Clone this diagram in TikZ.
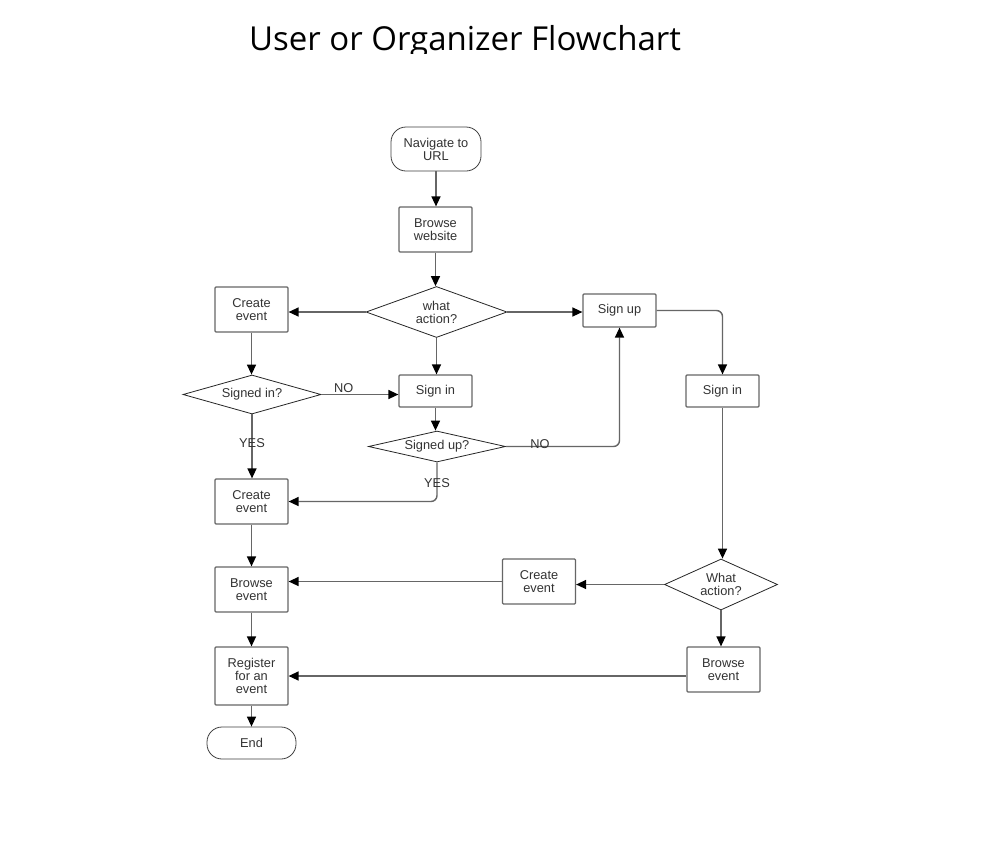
\documentclass[tikz,border=0pt]{standalone}
\usepackage{fontspec}
\setmainfont{Liberation Sans}
\newfontfamily\titlefont{Open Sans}
\usetikzlibrary{shapes.geometric, arrows.meta}
\definecolor{linegray}{RGB}{102,102,102}
\definecolor{textgray}{RGB}{51,51,51}
\tikzset{
  procbox/.style={
    draw=linegray, line width=1.2pt, rounded corners=1pt,
    minimum width=73pt, minimum height=45pt, inner sep=0pt,
    align=center, font=\fontsize{12.8}{13}\selectfont, text=textgray
  },
  termbox/.style={
    draw=black!75, line width=0.8pt, rounded corners=15pt,
    minimum width=90pt, minimum height=44pt, inner sep=0pt,
    align=center, font=\fontsize{12.8}{13}\selectfont, text=textgray
  },
  decbox/.style={
    diamond, draw=black!85, line width=0.8pt, inner sep=0pt,
    align=center, font=\fontsize{12.8}{13}\selectfont, text=textgray
  },
  flowline/.style={
    draw=linegray, line width=1.4pt, rounded corners=6pt,
    -{Triangle[length=10pt,width=9pt,color=black]}
  },
  flowlabel/.style={
    font=\fontsize{12.8}{13}\selectfont, text=textgray, inner sep=0pt
  },
  titletext/.style={
    font=\titlefont\fontsize{33}{38}\selectfont, text=black, inner sep=0pt
  },
}
\begin{document}
\begin{tikzpicture}[x=1pt, y=-1pt]

  \fill[white] (0,0) rectangle (985,849);
  \useasboundingbox (0,0) rectangle (985,849);

  %% Title (cut off at the bottom, as in the page)
  \begin{scope}
    \clip (0,0) rectangle (985,53);
    \node[titletext, anchor=base] (title) at (465,50) {User or Organizer Flowchart};
  \end{scope}

  %% Nodes
  \node[termbox] (navurl) at (436,149) {Navigate to\\URL};
  \node[procbox] (browseweb) at (435.5,229.5) {Browse\\website};
  \node[decbox, aspect=2.76, minimum width=141pt, minimum height=51pt] (whatact) at (436.5,312) {what\\action?};
  \node[procbox] (createtop) at (251.5,309.5) {Create\\event};
  \node[procbox, minimum height=33pt] (signup) at (619.5,310.5) {Sign up};
  \node[decbox, aspect=3.54, minimum width=138pt, minimum height=39pt] (signedin) at (252,394.5) {Signed in?};
  \node[procbox, minimum height=32pt] (signinmid) at (435.5,391) {Sign in};
  \node[procbox, minimum height=32pt] (signinright) at (722.5,391) {Sign in};
  \node[decbox, aspect=4.4, minimum width=137pt, minimum height=31pt] (signedup) at (437,446.5) {Signed up?};
  \node[procbox] (createmid) at (251.5,501.5) {Create\\event};
  \node[procbox] (browseleft) at (251.5,589.5) {Browse\\event};
  \node[procbox] (createright) at (539,581.5) {Create\\event};
  \node[decbox, aspect=2.2, minimum width=113pt, minimum height=51pt] (whatactright) at (721,584.5) {What\\action?};
  \node[procbox] (browseright) at (723.5,669.5) {Browse\\event};
  \node[procbox, minimum height=58pt] (register) at (251.5,676) {Register\\for an\\event};
  \node[termbox, minimum width=89pt, minimum height=32pt] (finish) at (251.5,743) {End};

  %% Main column
  \draw[flowline] (navurl.south) -- (navurl.south |- browseweb.north);
  \draw[flowline] (browseweb.south) -- (browseweb.south |- whatact.north);
  \draw[flowline] (whatact.west) -- (whatact.west -| createtop.east);
  \draw[flowline] (whatact.east) -- (whatact.east -| signup.west);
  \draw[flowline] (whatact.south) -- (whatact.south |- signinmid.north);

  %% Organizer side
  \draw[flowline] (createtop.south) -- (createtop.south |- signedin.north);
  \draw[flowline] (signedin.east) -- (signedin.east -| signinmid.west)
    node[flowlabel, pos=0.29, above=1pt] {NO};
  \draw[flowline] (signedin.south) -- (signedin.south |- createmid.north)
    node[flowlabel, pos=0.45] {YES};
  \draw[flowline] (signinmid.south) -- (signinmid.south |- signedup.north);
  \draw[flowline] (signedup.east) -| (signup.south)
    node[flowlabel, pos=0.15, yshift=2pt] {NO};
  \draw[flowline] (signedup.south) |- (createmid.east)
    node[flowlabel, pos=0.27] {YES};
  \draw[flowline] (createmid) -- (browseleft);
  \draw[flowline] (browseleft) -- (register);
  \draw[flowline] (register) -- (finish);

  %% User side
  \draw[flowline] (signup.east) -| (signinright.north);
  \draw[flowline] (signinright.south) -- (signinright.south |- whatactright.north);
  \draw[flowline] (whatactright.west) -- (whatactright.west -| createright.east);
  \draw[flowline] (createright.west) -- (createright.west -| browseleft.east);
  \draw[flowline] (whatactright.south) -- (whatactright.south |- browseright.north);
  \draw[flowline] (browseright.west |- register.east) -- (register.east);

\end{tikzpicture}
\end{document}
